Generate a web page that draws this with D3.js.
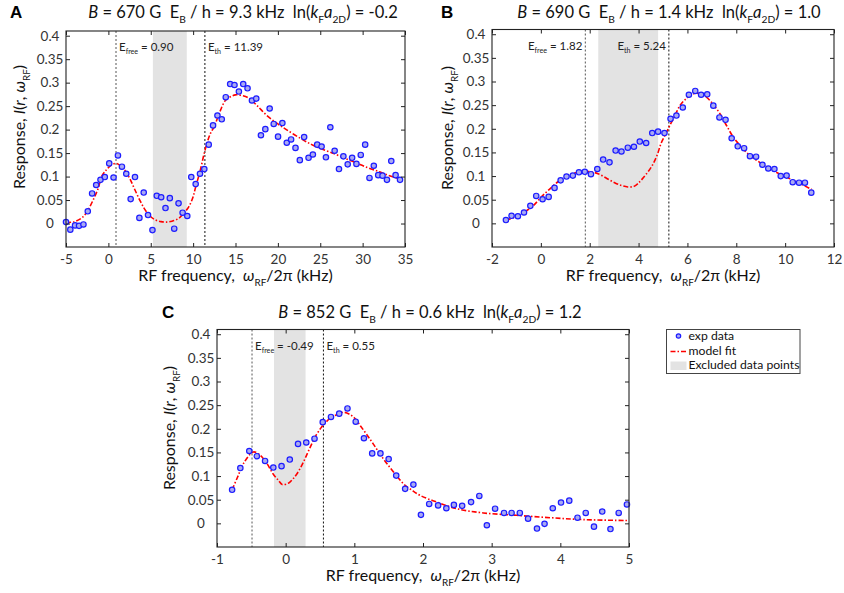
<!DOCTYPE html>
<html>
<head>
<meta charset="utf-8">
<script src="https://cdn.jsdelivr.net/npm/d3@7"></script>
<style>
  body { margin: 0; background: #fff; }
  svg { font-family: Lato, "Open Sans", sans-serif; }
  text { white-space: pre; }
</style>
</head>
<body>
<div id="chart"></div>
<script>
// Data
// Panel A: B = 670 G
const aFreq = [-5, -4.49, -3.93, -3.46, -2.94, -2.43, -1.92, -1.44, -0.93, -0.42, 0.10, 0.61, 1.13, 1.60, 2.11, 2.63, 3.14, 3.66, 4.17, 4.68,
  5.20, 5.71, 6.23, 6.74, 7.25, 7.77, 8.28, 8.76, 9.31, 9.78, 10.30, 10.81, 11.32, 11.84, 12.35, 12.87, 13.38, 13.85, 14.37, 14.88,
  15.40, 15.91, 16.42, 16.94, 17.45, 18.00, 18.52, 19.03, 19.51, 20.02, 20.53, 21.05, 21.56, 22.08, 22.59, 23.10, 23.62, 24.13, 24.64, 25.16,
  25.67, 26.19, 26.70, 27.21, 27.73, 28.24, 28.76, 29.27, 29.78, 30.30, 30.81, 31.32, 31.84, 32.35, 32.87, 33.38, 33.89, 34.41]
const aResp = [0.003, -0.013, -0.004, -0.005, -0.002, 0.026, 0.064, 0.082, 0.093, 0.099, 0.128, 0.098, 0.145, 0.121, 0.106, 0.052, 0.099, 0.012, 0.066, 0.018,
  -0.014, 0.059, 0.056, 0.033, 0.054, -0.011, 0.043, 0.023, 0.016, 0.099, 0.084, 0.106, 0.116, 0.168, 0.209, 0.230, 0.222, 0.269, 0.297, 0.295,
  0.281, 0.297, 0.288, 0.262, 0.266, 0.188, 0.201, 0.245, 0.212, 0.185, 0.214, 0.172, 0.179, 0.161, 0.135, 0.184, 0.140, 0.147, 0.168, 0.164,
  0.141, 0.205, 0.155, 0.116, 0.143, 0.126, 0.140, 0.127, 0.146, 0.168, 0.097, 0.123, 0.103, 0.102, 0.093, 0.133, 0.103, 0.093]
const aFitFreq = [-5, -4, -3, -2.4, -1.8, -1.2, -0.8, -0.2, 0.4, 1.0, 1.6, 2.0, 2.6, 3.1, 3.7, 4.3, 4.8, 5.5, 6.2, 6.8, 7.5, 8.3, 8.9, 9.5, 10.0,
  10.3, 10.8, 11.4, 12.0, 12.5, 13.2, 13.8, 14.4, 15.0, 15.6, 16.5, 17.5, 18.7, 20, 21, 22.7, 24, 25, 26.6, 28, 29, 30.6, 32, 33, 34.3]
const aFitResp = [0.002, 0.004, 0.014, 0.029, 0.05, 0.075, 0.1, 0.115, 0.125, 0.128, 0.12, 0.112, 0.093, 0.073, 0.05, 0.03, 0.018, 0.008, 0.004, 0.003, 0.005, 0.011, 0.022, 0.036, 0.057,
  0.078, 0.11, 0.156, 0.19, 0.207, 0.24, 0.262, 0.27, 0.274, 0.273, 0.268, 0.252, 0.23, 0.212, 0.2, 0.181, 0.168, 0.16, 0.149, 0.138, 0.131, 0.119, 0.11, 0.103, 0.095]

// Panel B: B = 690 G
const bFreq = [-1.43, -1.20, -0.94, -0.69, -0.43, -0.19, 0.07, 0.32, 0.56, 0.81, 1.05, 1.31, 1.56, 1.80, 2.05, 2.31, 2.55, 2.81, 3.06, 3.30,
  3.56, 3.81, 4.05, 4.31, 4.56, 4.80, 5.06, 5.31, 5.55, 5.81, 6.06, 6.32, 6.56, 6.81, 7.06, 7.31, 7.56, 7.81, 8.06, 8.32,
  8.56, 8.81, 9.07, 9.31, 9.56, 9.82, 10.06, 10.31, 10.57, 10.81, 11.07]
const bResp = [0.007, 0.016, 0.015, 0.023, 0.037, 0.058, 0.051, 0.056, 0.075, 0.091, 0.099, 0.101, 0.108, 0.109, 0.104, 0.115, 0.135, 0.129, 0.154, 0.152,
  0.160, 0.162, 0.173, 0.170, 0.191, 0.194, 0.191, 0.221, 0.228, 0.245, 0.272, 0.280, 0.272, 0.273, 0.249, 0.224, 0.219, 0.180, 0.163, 0.159,
  0.142, 0.141, 0.124, 0.116, 0.115, 0.100, 0.101, 0.087, 0.086, 0.086, 0.065]
const bFitFreq = [-1.43, -1.0, -0.66, -0.3, 0.02, 0.35, 0.7, 1.0, 1.24, 1.5, 1.79, 2.05, 2.34, 2.7, 3.02, 3.3, 3.56, 3.8, 3.97, 4.2, 4.52, 4.75,
  4.92, 5.1, 5.28, 5.5, 5.69, 6.0, 6.3, 6.55, 6.78, 7.05, 7.33, 7.6, 7.87, 8.2, 8.55, 8.9, 9.24, 9.6, 10.05, 10.5, 11.08]
const bFitResp = [0.007, 0.014, 0.024, 0.038, 0.056, 0.072, 0.088, 0.098, 0.104, 0.108, 0.110, 0.109, 0.105, 0.095, 0.086, 0.080, 0.077, 0.078, 0.084, 0.097, 0.119, 0.143,
  0.169, 0.188, 0.207, 0.229, 0.249, 0.266, 0.275, 0.274, 0.267, 0.252, 0.232, 0.207, 0.183, 0.162, 0.144, 0.131, 0.119, 0.109, 0.098, 0.087, 0.072]

// Panel C: B = 852 G
const cFreq = [-0.78, -0.66, -0.53, -0.42, -0.30, -0.18, -0.06, 0.06, 0.18, 0.30, 0.42, 0.54, 0.66, 0.78, 0.90, 1.02, 1.14, 1.26, 1.38, 1.50,
  1.61, 1.74, 1.86, 1.97, 2.09, 2.22, 2.34, 2.45, 2.57, 2.70, 2.82, 2.93, 3.05, 3.18, 3.29, 3.41, 3.53, 3.66, 3.77, 3.89,
  4.01, 4.13, 4.25, 4.37, 4.49, 4.61, 4.73, 4.85, 4.97]
const cResp = [0.071, 0.117, 0.153, 0.142, 0.132, 0.118, 0.121, 0.135, 0.168, 0.171, 0.179, 0.214, 0.225, 0.232, 0.243, 0.215, 0.180, 0.148, 0.148, 0.136,
  0.101, 0.073, 0.082, 0.018, 0.041, 0.038, 0.032, 0.039, 0.037, 0.045, 0.058, -0.004, 0.031, 0.022, 0.022, 0.022, 0.010, -0.011, -0.001, 0.032,
  0.044, 0.048, 0.012, 0.022, -0.007, 0.025, -0.012, 0.022, 0.040]
const cFitFreq = [-0.78, -0.7, -0.6, -0.47, -0.38, -0.28, -0.18, -0.1, -0.05, 0.04, 0.1, 0.16, 0.24, 0.31, 0.38, 0.45, 0.52, 0.58, 0.66, 0.75,
  0.84, 0.94, 1.02, 1.09, 1.18, 1.28, 1.4, 1.52, 1.62, 1.72, 1.84, 1.96, 2.2, 2.49, 2.88, 3.36, 3.85, 4.33, 4.97]
const cFitResp = [0.071, 0.098, 0.13, 0.151, 0.145, 0.128, 0.104, 0.09, 0.082, 0.085, 0.093, 0.104, 0.124, 0.146, 0.168, 0.188, 0.203, 0.213, 0.224, 0.23,
  0.235, 0.23, 0.22, 0.206, 0.188, 0.167, 0.141, 0.118, 0.1, 0.083, 0.07, 0.059, 0.045, 0.031, 0.022, 0.017, 0.012, 0.008, 0.006]

// markers: [E_free, E_th], excluded band, x ticks
const aLines = [0.90, 11.39], bLines = [1.82, 5.24], cLines = [-0.49, 0.55]
const aBand = [5.25, 9.25], bBand = [2.35, 4.8], cBand = [-0.17, 0.29]
const aTicks = d3.range(-5, 36, 5), bTicks = d3.range(-2, 13, 2), cTicks = d3.range(-1, 6, 1)
const yTicks = [0, 0.05, 0.1, 0.15, 0.2, 0.25, 0.3, 0.35, 0.4]
const yTickLabels = ['0', '0.05', '0.1', '0.15', '0.2', '0.25', '0.3', '0.35', '0.4']
const legendLabels = ['exp data', 'model fit', 'Excluded data points']
const titles = {
  A: [['B', 'i'], [' = 670 G  E'], ['B', 's'], [' / h = 9.3 kHz  ln('], ['k', 'i'], ['F', 's'], ['a', 'i'], ['2D', 's'], [') = -0.2']],
  B: [['B', 'i'], [' = 690 G  E'], ['B', 's'], [' / h = 1.4 kHz  ln('], ['k', 'i'], ['F', 's'], ['a', 'i'], ['2D', 's'], [') = 1.0']],
  C: [['B', 'i'], [' = 852 G  E'], ['B', 's'], [' / h = 0.6 kHz  ln('], ['k', 'i'], ['F', 's'], ['a', 'i'], ['2D', 's'], [') = 1.2']]
}

const width = 844, height = 593
const svg = d3.select('#chart').append('svg')
  .attr('width', width)
  .attr('height', height)

// write text with italic / subscript pieces, shift carried to the next piece
function rich(sel, parts, size) {
  const off = size * 0.3
  let down = false
  parts.forEach(([t, s]) => {
    const sub = !!s && s.includes('s')
    const dy = (sub ? off : 0) - (down ? off : 0)
    sel.append('tspan')
      .attr('dy', dy)
      .attr('font-size', sub ? size * 0.62 : size)
      .attr('font-style', s === 'i' ? 'italic' : 'normal')
      .text(t)
    down = sub
  })
  return sel
}

function panel(p) {
  const x = d3.scaleLinear().domain(p.xDomain).range([p.left, p.right])
  const y = d3.scaleLinear().domain([-0.05, 0.41]).range([p.bottom, p.top])
  const g = svg.append('g')
  const clipId = 'clip' + p.letter
  g.append('clipPath').attr('id', clipId).append('rect')
    .attr('x', p.left).attr('y', p.top).attr('width', p.right - p.left).attr('height', p.bottom - p.top)

  // excluded band
  g.append('rect')
    .attr('x', x(p.band[0])).attr('width', x(p.band[1]) - x(p.band[0]))
    .attr('y', p.top).attr('height', p.bottom - p.top)
    .attr('fill', '#e3e3e3')

  // E_free and E_th lines
  g.selectAll('.vline').data(p.lines).join('line')
    .attr('x1', d => x(d)).attr('x2', d => x(d))
    .attr('y1', p.top).attr('y2', p.bottom)
    .attr('stroke', (d, i) => i === 0 ? '#555' : '#111')
    .attr('stroke-width', 1)
    .attr('stroke-dasharray', '2,2')

  // labels on the lines
  p.lines.forEach((v, i) => {
    const t = g.append('text')
      .attr('x', x(v) + (p.labelLeft ? -3 : 3))
      .attr('y', p.top + 20)
      .attr('text-anchor', p.labelLeft ? 'end' : 'start')
      .attr('fill', '#222')
    rich(t, [['E'], [i === 0 ? 'free' : 'th', 's'], [' = ' + v.toFixed(2)]], 11.5)
  })

  // fit
  const line = d3.line().x(d => x(d[0])).y(d => y(d[1])).curve(d3.curveCatmullRom.alpha(0.5))
  g.append('path')
    .datum(d3.zip(p.fitX, p.fitY))
    .attr('d', line)
    .attr('fill', 'none')
    .attr('stroke', '#f00')
    .attr('stroke-width', 1.6)
    .attr('stroke-dasharray', '5,2,1.5,2')
    .attr('clip-path', `url(#${clipId})`)

  // data
  g.selectAll('.pt').data(d3.zip(p.dataX, p.dataY)).join('circle')
    .attr('cx', d => x(d[0])).attr('cy', d => y(d[1]))
    .attr('r', 2.7)
    .attr('fill', '#a9a9f2')
    .attr('stroke', '#1c1cff')
    .attr('stroke-width', 1.2)

  // axes with inward ticks, mirrored on top and right
  const axisStyle = a => {
    a.select('.domain').remove()
    a.selectAll('line').attr('stroke', '#222')
    a.selectAll('text').attr('fill', '#333').attr('font-size', 13.5).attr('font-family', 'Lato, sans-serif')
  }
  g.append('g').attr('transform', `translate(0,${p.bottom})`)
    .call(d3.axisBottom(x).tickValues(p.xTicks).tickSize(-4).tickPadding(7).tickFormat(d => String(d)))
    .call(axisStyle)
  g.append('g').attr('transform', `translate(0,${p.top})`)
    .call(d3.axisTop(x).tickValues(p.xTicks).tickSize(-4).tickFormat(''))
    .call(axisStyle)
  const yAx = g.append('g').attr('transform', `translate(${p.left},0)`)
    .call(d3.axisLeft(y).tickValues(yTicks).tickSize(-4).tickPadding(16).tickFormat((d, i) => yTickLabels[i]))
    .call(axisStyle)
  yAx.selectAll('text').attr('text-anchor', 'middle')
  g.append('g').attr('transform', `translate(${p.right},0)`)
    .call(d3.axisRight(y).tickValues(yTicks).tickSize(-4).tickFormat(''))
    .call(axisStyle)

  g.append('rect')
    .attr('x', p.left).attr('y', p.top)
    .attr('width', p.right - p.left).attr('height', p.bottom - p.top)
    .attr('fill', 'none').attr('stroke', '#222').attr('stroke-width', 1.1)

  // titles and axis labels
  g.append('text').attr('x', p.letterX).attr('y', p.titleY)
    .attr('font-weight', 'bold').attr('font-size', 17).attr('font-family', 'Arial, "Liberation Sans", sans-serif')
    .text(p.letter)
  rich(g.append('text').attr('x', p.titleX).attr('y', p.titleY).attr('text-anchor', 'middle').attr('fill', '#111'),
    titles[p.letter], 16.5)
  rich(g.append('text').attr('x', (p.left + p.right) / 2).attr('y', p.bottom + 34).attr('text-anchor', 'middle').attr('fill', '#111'),
    [['RF frequency,  '], ['ω', 'i'], ['RF', 's'], ['/2π (kHz)']], 16)
  rich(g.append('text')
    .attr('transform', `translate(${p.ylabX},${p.ylabY}) rotate(-90)`)
    .attr('text-anchor', 'middle').attr('fill', '#111'),
    [['Response, '], ['I', 'i'], ['('], ['r', 'i'], [', '], ['ω', 'i'], ['RF', 's'], [')']], 16)
}

panel({ letter: 'A', left: 66, right: 405, top: 31, bottom: 247, xDomain: [-5, 35], xTicks: aTicks,
  dataX: aFreq, dataY: aResp, fitX: aFitFreq, fitY: aFitResp, lines: aLines, band: aBand,
  letterX: 10, titleX: 243, titleY: 18, ylabX: 25, ylabY: 127 })
panel({ letter: 'B', left: 492, right: 834, top: 29.5, bottom: 247, xDomain: [-2, 12], xTicks: bTicks,
  dataX: bFreq, dataY: bResp, fitX: bFitFreq, fitY: bFitResp, lines: bLines, band: bBand, labelLeft: true,
  letterX: 441, titleX: 669, titleY: 18, ylabX: 453, ylabY: 128 })
panel({ letter: 'C', left: 217, right: 629, top: 329.5, bottom: 547, xDomain: [-1, 5], xTicks: cTicks,
  dataX: cFreq, dataY: cResp, fitX: cFitFreq, fitY: cFitResp, lines: cLines, band: cBand,
  letterX: 162, titleX: 430, titleY: 318, ylabX: 175, ylabY: 428 })

// legend
const leg = svg.append('g').attr('font-size', 12.2).attr('fill', '#111')
leg.append('rect').attr('x', 666.5).attr('y', 329.5).attr('width', 133.5).attr('height', 44)
  .attr('fill', '#fff').attr('stroke', '#444').attr('stroke-width', 1)
leg.append('circle').attr('cx', 678.5).attr('cy', 336).attr('r', 2.2)
  .attr('fill', '#a9a9f2').attr('stroke', '#1c1cff').attr('stroke-width', 1.2)
leg.append('line').attr('x1', 670.5).attr('x2', 686).attr('y1', 351.5).attr('y2', 351.5)
  .attr('stroke', '#f00').attr('stroke-width', 1.6).attr('stroke-dasharray', '5,2,1.5,2')
leg.append('rect').attr('x', 670.5).attr('y', 361.5).attr('width', 16).attr('height', 8.5).attr('fill', '#e3e3e3')
leg.selectAll('.lt').data(legendLabels).join('text')
  .attr('x', 688.5).attr('y', (d, i) => 340 + i * 14.5)
  .text(d => d)
</script>
</body>
</html>
